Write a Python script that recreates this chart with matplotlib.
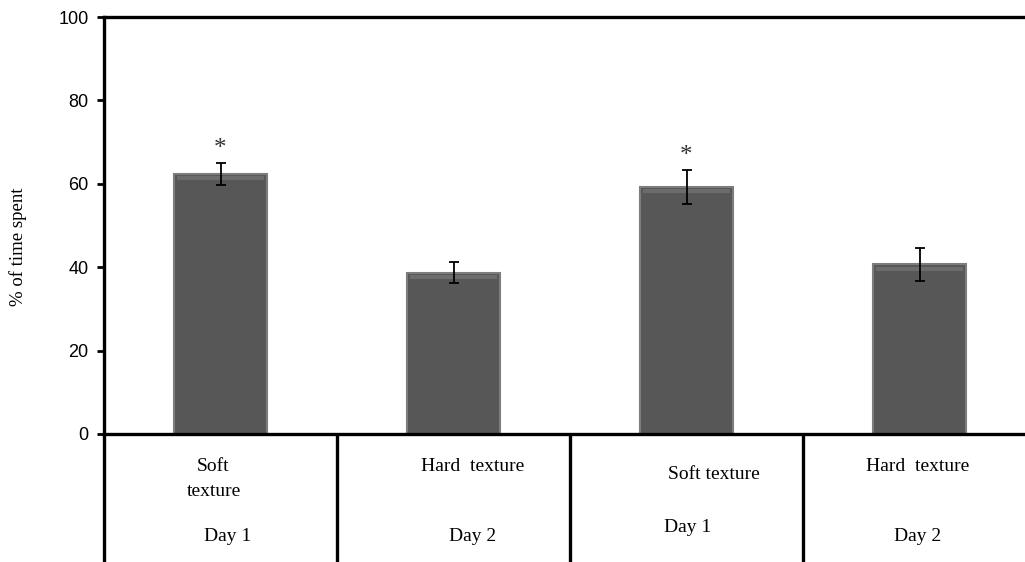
import numpy as np
import matplotlib
matplotlib.use("Agg")
import matplotlib.pyplot as plt

# mean % of time spent per condition, with SEM
conditions = ["Soft texture D1", "Hard texture D2", "Soft texture D1", "Hard texture D2"]
means = [62.4, 38.7, 59.3, 40.7]
errors = [2.6, 2.5, 4.1, 4.0]
signif = [True, False, True, False]

# category table text under the axis: (label lines, day)
cell_top = [["Soft", "texture"], ["Hard  texture"], ["Soft texture"], ["Hard  texture"]]
cell_day = ["Day 1", "Day 2", "Day 1", "Day 2"]

serif = ["Liberation Serif", "DejaVu Serif"]
plt.rcParams["font.family"] = ["Liberation Sans", "DejaVu Sans"]

fig = plt.figure(figsize=(10.25, 5.62), dpi=100)
ax = fig.add_axes([104 / 1025, 128 / 562, 932 / 1025, 417 / 562])

x = np.arange(len(means))
ax.bar(x, means, width=0.395, color="#575757", edgecolor="#7d7d7d", linewidth=1.5, zorder=2)
# soft bevel along the top of each bar
ax.bar(x, [1.0] * len(means), bottom=np.array(means) - 1.6, width=0.37,
       color="#6c6c6c", linewidth=0, zorder=3)
ax.errorbar(x, means, yerr=errors, fmt="none", ecolor="black", elinewidth=1.3,
            capsize=3.5, capthick=1.3, zorder=4)
for xi, m, e, s in zip(x, means, errors, signif):
    if s:
        ax.text(xi, m + e + 0.6, "*", ha="center", va="bottom", fontsize=18,
                family=serif, color="#333333")

ax.set_xlim(-0.5, 3.5)
ax.set_ylim(0, 100)
ax.set_yticks([0, 20, 40, 60, 80, 100])
ax.set_xticks([])
ax.tick_params(axis="y", direction="out", length=5, width=2, labelsize=13, pad=6)
for side in ("left", "bottom", "top"):
    ax.spines[side].set_linewidth(2.4)
ax.spines["right"].set_visible(False)
ax.set_ylabel("% of time spent", family=serif, fontsize=13.5)
ax.yaxis.set_label_coords(-0.083, 0.448)

# table below the bars
tr = ax.get_xaxis_transform()
for bx in [-0.5, 0.5, 1.5, 2.5]:
    ax.plot([bx, bx], [0, -0.35], transform=tr, color="black", lw=2.4,
            clip_on=False, solid_capstyle="butt")

top_pos = [(-0.03, -0.079), (1.08, -0.079), (2.118, -0.096), (2.99, -0.079)]
day_pos = [(0.032, -0.247), (1.08, -0.247), (2.006, -0.225), (2.99, -0.247)]
for lines, (tx, ty) in zip(cell_top, top_pos):
    for k, ln in enumerate(lines):
        ax.text(tx, ty - 0.06 * k, ln, transform=tr, ha="center", va="center",
                fontsize=14, family=serif)
for d, (tx, ty) in zip(cell_day, day_pos):
    ax.text(tx, ty, d, transform=tr, ha="center", va="center", fontsize=14, family=serif)

fig.savefig("out.png", dpi=100)
